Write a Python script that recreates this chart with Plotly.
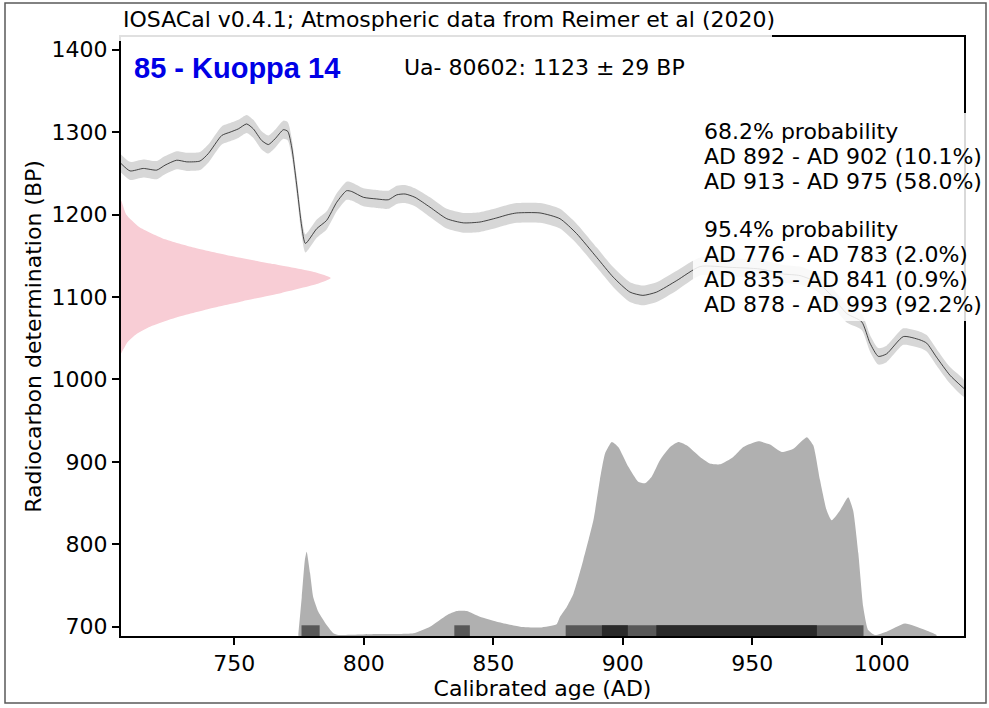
import plotly.graph_objects as go

# Calibration curve (IntCal20)
cal_x = [706.3, 709.8, 714.9, 720.1, 723.3, 727.8, 731.7, 736.8, 740.0, 745.2, 748.4, 751.6,
         754.8, 757.4, 760.6, 763.2, 765.8, 769.0, 770.7, 772.2, 774.1, 776.1, 777.5, 781.9,
         785.7, 789.6, 793.4, 795.4, 799.9, 805.0, 809.5, 812.8, 816.0, 819.8, 825.6, 832.1,
         838.5, 844.9, 851.4, 855.8, 859.1, 868.1, 875.8, 882.2, 890.0, 896.4, 902.8, 907.8,
         913.1, 920.9, 929.9, 941.4, 953.0, 962.0, 968.5, 975.0, 980.0, 986.5, 992.3, 995.5,
         998.7, 1001.9, 1008.4, 1014.8, 1017.4, 1021.2, 1026.4, 1031.8]
cal_bp = [1262, 1253, 1256, 1254, 1260, 1266, 1264, 1265, 1274, 1296, 1300, 1304,
          1310, 1304, 1290, 1285, 1292, 1303, 1301, 1282, 1237, 1185, 1165, 1183,
          1193, 1215, 1229, 1228, 1221, 1219, 1218, 1224, 1225, 1221, 1209, 1195,
          1190, 1191, 1196, 1200, 1202, 1202, 1195, 1177, 1148, 1124, 1106, 1102,
          1106, 1120, 1137, 1136, 1134, 1128, 1126, 1118, 1104, 1080, 1070, 1044,
          1028, 1031, 1052, 1048, 1044, 1027, 1005, 989]
cal_err = [11, 11, 11, 11, 11, 11, 11, 11, 11, 11, 11, 11,
           11, 11, 11, 11, 11, 11, 11, 11, 11, 11, 11, 11,
           11, 11, 11, 11, 11, 11, 11, 11, 11, 11, 12, 12,
           12, 12, 12, 12, 12, 12, 12, 12, 12, 12, 12, 12,
           12, 12, 11, 11, 11, 11, 11, 11, 11, 11, 10, 10,
           10, 10, 10, 10, 10, 10, 10, 10]

# Radiocarbon determination Ua-80602: 1123 +/- 29 BP, profile
pink_bp = [1217, 1200, 1185, 1170, 1160, 1150, 1140, 1130, 1123, 1116, 1105, 1095,
           1085, 1075, 1065, 1055, 1045, 1031]
pink_w = [0, 2, 7, 17, 28, 42, 59, 75, 81, 76, 62, 47, 33, 21, 12, 6, 2.5, 0]

# Calibrated age probability distribution
dist_x = [774.8, 776.1, 777.3, 778.0, 779.3, 780.5, 782.5, 785.7, 788.3, 790.2, 804.8, 819.2,
          825.6, 832.1, 835.9, 839.8, 844.9, 851.4, 860.4, 868.1, 874.5, 875.8, 878.4, 881.0,
          884.8, 888.7, 891.2, 893.2, 895.8, 898.3, 902.2, 906.0, 908.6, 911.2, 914.4, 918.3,
          921.5, 924.7, 929.9, 933.7, 937.6, 942.7, 946.6, 952.4, 956.9, 961.4, 965.9, 971.1,
          973.6, 976.2, 978.8, 980.7, 983.9, 987.1, 989.0, 991.0, 992.9, 994.8, 997.4, 1001.9,
          1009.0, 1016.1, 1021.2]
dist_bp = [690, 736, 781, 791, 765, 736, 718, 702, 692, 690, 691, 692,
           700, 714, 719, 719, 712, 706, 700, 699, 703, 712, 724, 740,
           781, 829, 878, 910, 924, 918, 894, 876, 874, 882, 902, 918,
           924, 920, 906, 898, 897, 906, 918, 925, 921, 912, 916, 930,
           920, 878, 841, 829, 841, 857, 841, 789, 724, 696, 690, 694,
           704, 697, 690]

ranges_95 = [(776, 783), (835, 841), (878, 993)]
ranges_68 = [(892, 902), (913, 975)]

prob_lines = ["68.2% probability", "AD 892 - AD 902 (10.1%)", "AD 913 - AD 975 (58.0%)",
              "95.4% probability", "AD 776 - AD 783 (2.0%)", "AD 835 - AD 841 (0.9%)",
              "AD 878 - AD 993 (92.2%)"]

x_range = [706.3, 1031.8]
y_range = [688.7, 1415.5]

W, H = 989, 708
L, R, T, B = 121, 25, 37, 72
pw, ph = W - L - R, H - T - B


def px(x):  # pixel -> paper
    return (x - L) / pw


def py(y):
    return (H - B - y) / ph


FONT = "DejaVu Sans"
fig = go.Figure()

# calibration band and curve
upper = [b + e for b, e in zip(cal_bp, cal_err)]
lower = [b - e for b, e in zip(cal_bp, cal_err)]
fig.add_trace(go.Scatter(x=cal_x + cal_x[::-1], y=upper + lower[::-1], fill="toself",
                         fillcolor="rgb(215,215,215)", line=dict(width=0, shape="spline", smoothing=0.6),
                         mode="lines", hoverinfo="skip", showlegend=False))
fig.add_trace(go.Scatter(x=cal_x, y=cal_bp, mode="lines",
                         line=dict(color="rgba(30,30,30,0.8)", width=1, shape="spline", smoothing=0.6),
                         showlegend=False))

# radiocarbon determination
fig.add_trace(go.Scatter(x=[x_range[0] + w for w in pink_w] + [x_range[0]] * 2,
                         y=pink_bp + [pink_bp[-1], pink_bp[0]], fill="toself",
                         fillcolor="rgb(248,205,213)", line=dict(width=0, shape="spline", smoothing=0.5),
                         mode="lines", showlegend=False))

# calibrated distribution
fig.add_trace(go.Scatter(x=[dist_x[0]] + dist_x + [dist_x[-1]],
                         y=[y_range[0]] + dist_bp + [y_range[0]], fill="toself",
                         fillcolor="rgb(176,176,176)", line=dict(width=0, shape="spline", smoothing=0.5),
                         mode="lines", showlegend=False))

bar_h = 13
for rngs, col in [(ranges_95, "rgb(88,88,88)"), (ranges_68, "rgb(42,42,42)")]:
    for a, b in rngs:
        fig.add_trace(go.Scatter(x=[a, b, b, a, a],
                                 y=[y_range[0], y_range[0], y_range[0] + bar_h, y_range[0] + bar_h, y_range[0]],
                                 fill="toself", fillcolor=col, line=dict(width=0), mode="lines",
                                 showlegend=False))

shapes = [
    # outer frame
    dict(type="rect", xref="paper", yref="paper", x0=px(5), x1=px(986), y0=py(703), y1=py(3),
         line=dict(color="rgb(90,90,90)", width=1.5), layer="above"),
    # title box
    dict(type="rect", xref="paper", yref="paper", x0=px(118), x1=px(772), y0=py(41), y1=py(10),
         fillcolor="rgba(255,255,255,0.88)", line=dict(width=0), layer="above"),
    # probability text box
    dict(type="rect", xref="paper", yref="paper", x0=px(693), x1=px(984), y0=py(321), y1=py(113),
         fillcolor="rgba(255,255,255,0.85)", line=dict(width=0), layer="above"),
]

annotations = [
    dict(text="IOSACal v0.4.1; Atmospheric data from Reimer et al (2020)", x=px(121), y=py(20),
         font=dict(family=FONT, size=22, color="black")),
    dict(text="<b>85 - Kuoppa 14</b>", x=px(132), y=py(68),
         font=dict(family="Liberation Sans", size=29, color="rgb(0,0,230)")),
    dict(text="Ua- 80602: 1123 ± 29 BP", x=px(402), y=py(67),
         font=dict(family=FONT, size=22, color="black")),
]
line_y = [131, 156, 181, 229, 254, 279, 304]
for t, yy in zip(prob_lines, line_y):
    annotations.append(dict(text=t, x=px(702), y=py(yy), font=dict(family=FONT, size=22, color="black")))
for a in annotations:
    a.update(xref="paper", yref="paper", xanchor="left", yanchor="middle", showarrow=False)

axis_common = dict(showgrid=False, zeroline=False, showline=True, linecolor="black", linewidth=2,
                   mirror=True, ticks="outside", ticklen=7, tickwidth=2, tickcolor="black",
                   tickfont=dict(family=FONT, size=22, color="black"))

fig.update_layout(
    width=W, height=H, margin=dict(l=L, r=R, t=T, b=B),
    paper_bgcolor="white", plot_bgcolor="white",
    xaxis=dict(range=x_range, tickvals=[750, 800, 850, 900, 950, 1000],
               title=dict(text="Calibrated age (AD)", font=dict(family=FONT, size=22, color="black"), standoff=2),
               **axis_common),
    yaxis=dict(range=y_range, tickvals=[700, 800, 900, 1000, 1100, 1200, 1300, 1400],
               title=dict(text="Radiocarbon determination (BP)", font=dict(family=FONT, size=22, color="black"), standoff=4),
               **axis_common),
    shapes=shapes, annotations=annotations, showlegend=False,
)

fig.write_html("out.html", config={"displayModeBar": False},
               post_script="document.body.style.margin='0';document.body.style.overflow='hidden';")
